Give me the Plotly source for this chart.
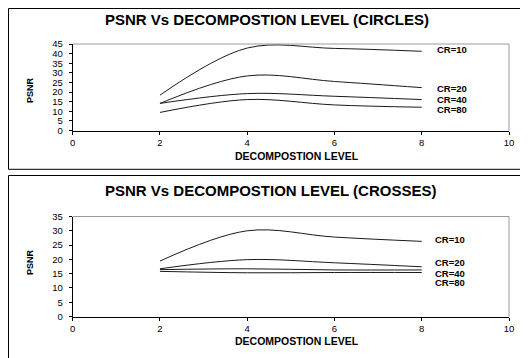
import plotly.graph_objects as go

# The page body has an 8px margin, so the figure is drawn 8px in from the window corner.
OFF = 8
W, H = 528 - OFF, 358 - OFF

levels = [2, 4, 6, 8]
series_names = ["CR=10", "CR=20", "CR=40", "CR=80"]

circles_cr10 = [18.4, 42.9, 42.7, 41.2]
circles_cr20 = [14.1, 28.4, 25.5, 22.3]
circles_cr40 = [14.1, 19.2, 17.8, 16.1]
circles_cr80 = [9.4, 16.1, 13.3, 12.1]

crosses_cr10 = [19.4, 30.0, 27.8, 26.3]
crosses_cr20 = [16.7, 19.9, 18.8, 17.4]
crosses_cr40 = [16.4, 16.7, 16.3, 16.3]
crosses_cr80 = [15.8, 15.3, 15.4, 15.4]

x_ticks = [0, 2, 4, 6, 8, 10]
y_ticks_top = [0, 5, 10, 15, 20, 25, 30, 35, 40, 45]
y_ticks_bottom = [0, 5, 10, 15, 20, 25, 30, 35]

title_top = "PSNR Vs DECOMPOSTION LEVEL (CIRCLES)"
title_bottom = "PSNR Vs DECOMPOSTION LEVEL (CROSSES)"
x_title = "DECOMPOSTION LEVEL"
y_title = "PSNR"

FONT = "Liberation Sans, Arial, sans-serif"


def px_x(p):
    return (p - OFF) / W


def px_y(p):
    return 1 - (p - OFF) / H


fig = go.Figure()

top_series = [circles_cr10, circles_cr20, circles_cr40, circles_cr80]
bottom_series = [crosses_cr10, crosses_cr20, crosses_cr40, crosses_cr80]

for name, vals in zip(series_names, top_series):
    fig.add_trace(go.Scatter(x=levels, y=vals, mode="lines", name=name,
                             line=dict(color="#1a1a1a", width=1, shape="spline", smoothing=1.0),
                             xaxis="x", yaxis="y", showlegend=False))
for name, vals in zip(series_names, bottom_series):
    fig.add_trace(go.Scatter(x=levels, y=vals, mode="lines", name=name,
                             line=dict(color="#1a1a1a", width=1, shape="spline", smoothing=1.0),
                             xaxis="x2", yaxis="y2", showlegend=False))

xdom = [px_x(72.7), px_x(509)]
axis_common = dict(showgrid=False, zeroline=False, showline=True, linecolor="black",
                   linewidth=1, ticks="outside", ticklen=3, tickcolor="black",
                   automargin=False,
                   tickfont=dict(family=FONT, size=9.5, color="black"))

fig.update_layout(
    width=W, height=H,
    margin=dict(l=0, r=0, t=0, b=0, pad=0),
    paper_bgcolor="white", plot_bgcolor="white",
    xaxis=dict(domain=xdom, range=[0, 10], tickvals=x_ticks, anchor="y", **axis_common),
    yaxis=dict(domain=[px_y(130.5), px_y(44)], range=[0, 45], tickvals=y_ticks_top,
               anchor="x", ticklabelstandoff=4, **axis_common),
    xaxis2=dict(domain=xdom, range=[0, 10], tickvals=x_ticks, anchor="y2", **axis_common),
    yaxis2=dict(domain=[px_y(316.5), px_y(216.5)], range=[0, 35], tickvals=y_ticks_bottom,
                anchor="x2", ticklabelstandoff=4, **axis_common),
)

shapes = []
# outer panel boxes
shapes.append(dict(type="rect", xref="paper", yref="paper",
                   x0=px_x(8.5), x1=px_x(530), y0=px_y(169.3), y1=px_y(8.5),
                   line=dict(color="black", width=1), fillcolor="rgba(0,0,0,0)", layer="below"))
shapes.append(dict(type="rect", xref="paper", yref="paper",
                   x0=px_x(8.5), x1=px_x(530), y0=px_y(362), y1=px_y(175.5),
                   line=dict(color="black", width=1), fillcolor="rgba(0,0,0,0)", layer="below"))
# grey plot-area borders (top & right)
for xr, yr in [("x", "y"), ("x2", "y2")]:
    shapes.append(dict(type="line", xref=xr + " domain", yref=yr + " domain",
                       x0=0, x1=1, y0=1, y1=1, line=dict(color="#9a9a9a", width=1)))
    shapes.append(dict(type="line", xref=xr + " domain", yref=yr + " domain",
                       x0=1, x1=1, y0=0, y1=1, line=dict(color="#9a9a9a", width=1)))
fig.update_layout(shapes=shapes)

ann = []
ann.append(dict(text="<b>" + title_top + "</b>", xref="paper", yref="paper",
                x=px_x(267), y=px_y(19), showarrow=False, xanchor="center", yanchor="middle",
                font=dict(family=FONT, size=15, color="black")))
ann.append(dict(text="<b>" + title_bottom + "</b>", xref="paper", yref="paper",
                x=px_x(270), y=px_y(190), showarrow=False, xanchor="center", yanchor="middle",
                font=dict(family=FONT, size=15, color="black")))
for ty in [155.7, 341]:
    ann.append(dict(text="<b>" + x_title + "</b>", xref="paper", yref="paper",
                    x=px_x(297), y=px_y(ty), showarrow=False, xanchor="center", yanchor="middle",
                    font=dict(family=FONT, size=10.5, color="black")))
for ty in [90, 262]:
    ann.append(dict(text="<b>" + y_title + "</b>", xref="paper", yref="paper",
                    x=px_x(30), y=px_y(ty), showarrow=False, xanchor="center", yanchor="middle",
                    textangle=-90, font=dict(family=FONT, size=9, color="black")))

label_y_top = [42.4, 22.1, 16.0, 11.1]
label_y_bottom = [26.8, 18.8, 15.1, 12.0]
for name, ly in zip(series_names, label_y_top):
    ann.append(dict(text="<b>" + name + "</b>", xref="x", yref="y", x=8.3, y=ly,
                    showarrow=False, xanchor="left", yanchor="middle",
                    font=dict(family=FONT, size=9.5, color="black")))
for name, ly in zip(series_names, label_y_bottom):
    ann.append(dict(text="<b>" + name + "</b>", xref="x2", yref="y2", x=8.25, y=ly,
                    showarrow=False, xanchor="left", yanchor="middle",
                    font=dict(family=FONT, size=9.5, color="black")))
fig.update_layout(annotations=ann)

fig.write_html("out.html")
